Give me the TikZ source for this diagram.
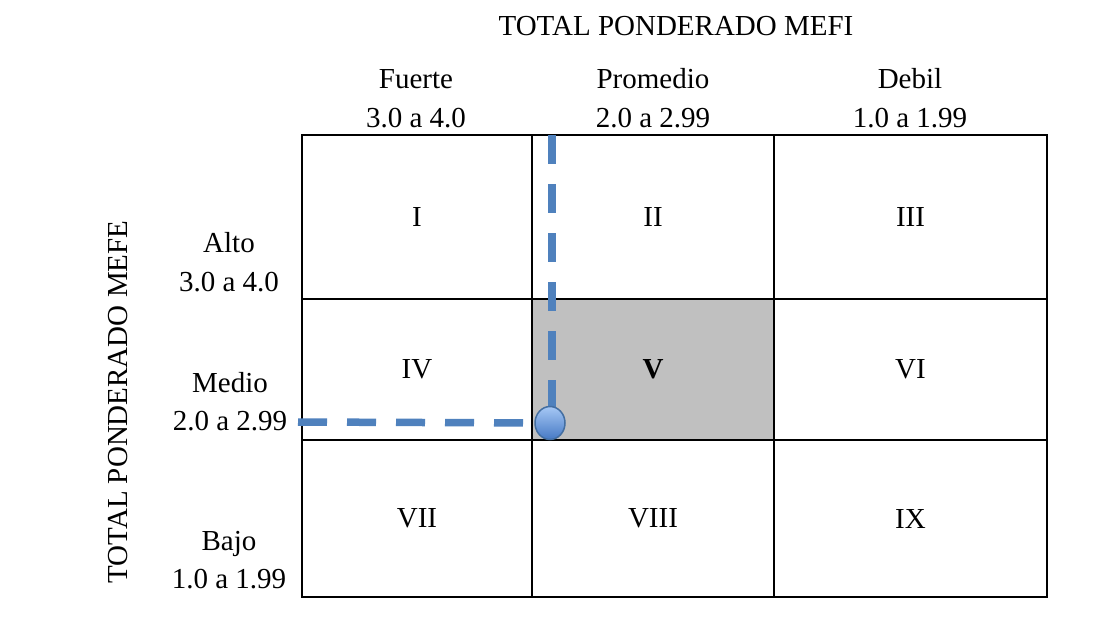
\documentclass[tikz,border=0pt]{standalone}
\usepackage{fontspec}
\setmainfont{Liberation Serif}
\usetikzlibrary{shapes.geometric}
\definecolor{lineblue}{HTML}{4F81BD}
\definecolor{dotlight}{HTML}{A6C8F5}
\definecolor{dotdark}{HTML}{4679C4}
\definecolor{cellgray}{HTML}{C0C0C0}
\begin{document}
\begin{tikzpicture}[x=1pt,y=-1pt,
  txt/.style={font=\fontsize{29}{34}\selectfont, inner sep=0pt, anchor=base},
  cell/.style={draw=black, line width=2.7pt, inner sep=0pt, outer sep=0pt, font=\fontsize{29}{34}\selectfont},
  blueline/.style={draw=lineblue, line width=7.5pt, dash pattern=on 29pt off 20pt},
  dot/.style={ellipse, draw=lineblue!85!black, line width=1.5pt, minimum width=30pt, minimum height=33pt, inner sep=0pt, top color=dotlight, bottom color=dotdark}
]
\useasboundingbox (0,0) rectangle (1105,616);
\fill[white] (0,0) rectangle (1105,616);

% headings
\node[txt] (title) at (676,35) {TOTAL PONDERADO MEFI};
\node[txt] (h1) at (416,88) {Fuerte};
\node[txt] (h1r) at (416,127) {3.0 a 4.0};
\node[txt] (h2) at (653,88) {Promedio};
\node[txt] (h2r) at (653,127) {2.0 a 2.99};
\node[txt] (h3) at (910,88) {Debil};
\node[txt] (h3r) at (910,127) {1.0 a 1.99};

\node[txt, rotate=90] (ytitle) at (127,402) {TOTAL PONDERADO MEFE};
\node[txt] (r1) at (229,252) {Alto};
\node[txt] (r1r) at (229,291) {3.0 a 4.0};
\node[txt] (r2) at (230,392) {Medio};
\node[txt] (r2r) at (230,430) {2.0 a 2.99};
\node[txt] (r3) at (229,550) {Bajo};
\node[txt] (r3r) at (229,588) {1.0 a 1.99};

% grid cells
\node[cell, minimum width=230pt, minimum height=164pt] (c1) at (417,217) {I};
\node[cell, minimum width=242pt, minimum height=164pt] (c2) at (653,217) {II};
\node[cell, minimum width=273pt, minimum height=164pt] (c3) at (910.5,217) {III};
\node[cell, minimum width=230pt, minimum height=141pt] (c4) at (417,369.5) {IV};
\node[cell, fill=cellgray, minimum width=242pt, minimum height=141pt] (c5) at (653,369.5) {\textbf{V}};
\node[cell, minimum width=273pt, minimum height=141pt] (c6) at (910.5,369.5) {VI};
\node[cell, minimum width=230pt, minimum height=157pt] (c7) at (417,518.5) {VII};
\node[cell, minimum width=242pt, minimum height=157pt] (c8) at (653,518.5) {VIII};
\node[cell, minimum width=273pt, minimum height=157pt] (c9) at (910.5,518.5) {IX};

% position marker
\coordinate (vtop) at (552,135);
\coordinate (hleft) at (298,422);
\coordinate (pc) at (550,423);
\draw[blueline] (vtop) -- (vtop |- pc);
\draw[blueline] (hleft) -- (pc);
\node[dot] (pt) at (pc) {};
\end{tikzpicture}
\end{document}
